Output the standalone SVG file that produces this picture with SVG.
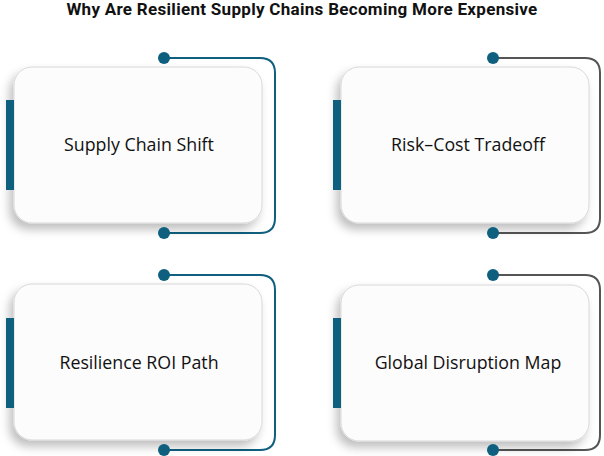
<svg xmlns="http://www.w3.org/2000/svg" width="604" height="456" viewBox="0 0 604 456">
<defs>
<filter id="sh" x="-20%" y="-20%" width="140%" height="150%"><feDropShadow dx="-4" dy="6" stdDeviation="5" flood-color="#000" flood-opacity="0.25"/></filter>
</defs>
<style>
.card{fill:#fcfcfc;stroke:#d8d8d8;stroke-width:1;filter:url(#sh)}
.bar{fill:#0f5f7f}
.dot{fill:#0f5f7f}
.bl{fill:none;stroke-width:2;stroke:#0f5f7f}
.gl{fill:none;stroke-width:2;stroke:#555}
.lbl{font-family:"Open Sans",sans-serif;font-size:17.8px;fill:#111;text-anchor:middle}
.title{font-family:"Roboto",sans-serif;font-size:17px;font-weight:bold;fill:#111;text-anchor:middle;letter-spacing:0.3px}
</style>
<rect width="604" height="456" fill="#fff"/>
<text class="title" x="302" y="15">Why Are Resilient Supply Chains Becoming More Expensive</text>
<g id="connectors">
<path class="bl" d="M164 58 H260 Q275 58 275 73 V218 Q275 233 260 233 H164"/>
<path class="gl" d="M493 58 H585 Q600 58 600 73 V218 Q600 233 585 233 H493"/>
<path class="bl" d="M164 275 H260 Q275 275 275 290 V435 Q275 450 260 450 H164"/>
<path class="gl" d="M493 275 H585 Q600 275 600 290 V435 Q600 450 585 450 H493"/>
</g>
<g id="n1">
<rect class="card" x="14" y="67" width="248" height="156" rx="18"/>
<rect class="bar" x="6" y="100" width="8" height="90"/>
<circle class="dot" cx="164" cy="58" r="6"/><circle class="dot" cx="164" cy="233" r="6"/>
<text class="lbl" x="139" y="151">Supply Chain Shift</text>
</g>
<g id="n2">
<rect class="card" x="341" y="67" width="248" height="156" rx="18"/>
<rect class="bar" x="333" y="100" width="8" height="90"/>
<circle class="dot" cx="493" cy="58" r="6"/><circle class="dot" cx="493" cy="233" r="6"/>
<text class="lbl" x="468" y="151">Risk–Cost Tradeoff</text>
</g>
<g id="n3">
<rect class="card" x="14" y="284" width="248" height="156" rx="18"/>
<rect class="bar" x="6" y="318" width="8" height="90"/>
<circle class="dot" cx="164" cy="275" r="6"/><circle class="dot" cx="164" cy="450" r="6"/>
<text class="lbl" x="139" y="369">Resilience ROI Path</text>
</g>
<g id="n4">
<rect class="card" x="341" y="285" width="248" height="156" rx="18"/>
<rect class="bar" x="333" y="318" width="8" height="90"/>
<circle class="dot" cx="493" cy="275" r="6"/><circle class="dot" cx="493" cy="450" r="6"/>
<text class="lbl" x="468" y="369">Global Disruption Map</text>
</g>
</svg>
